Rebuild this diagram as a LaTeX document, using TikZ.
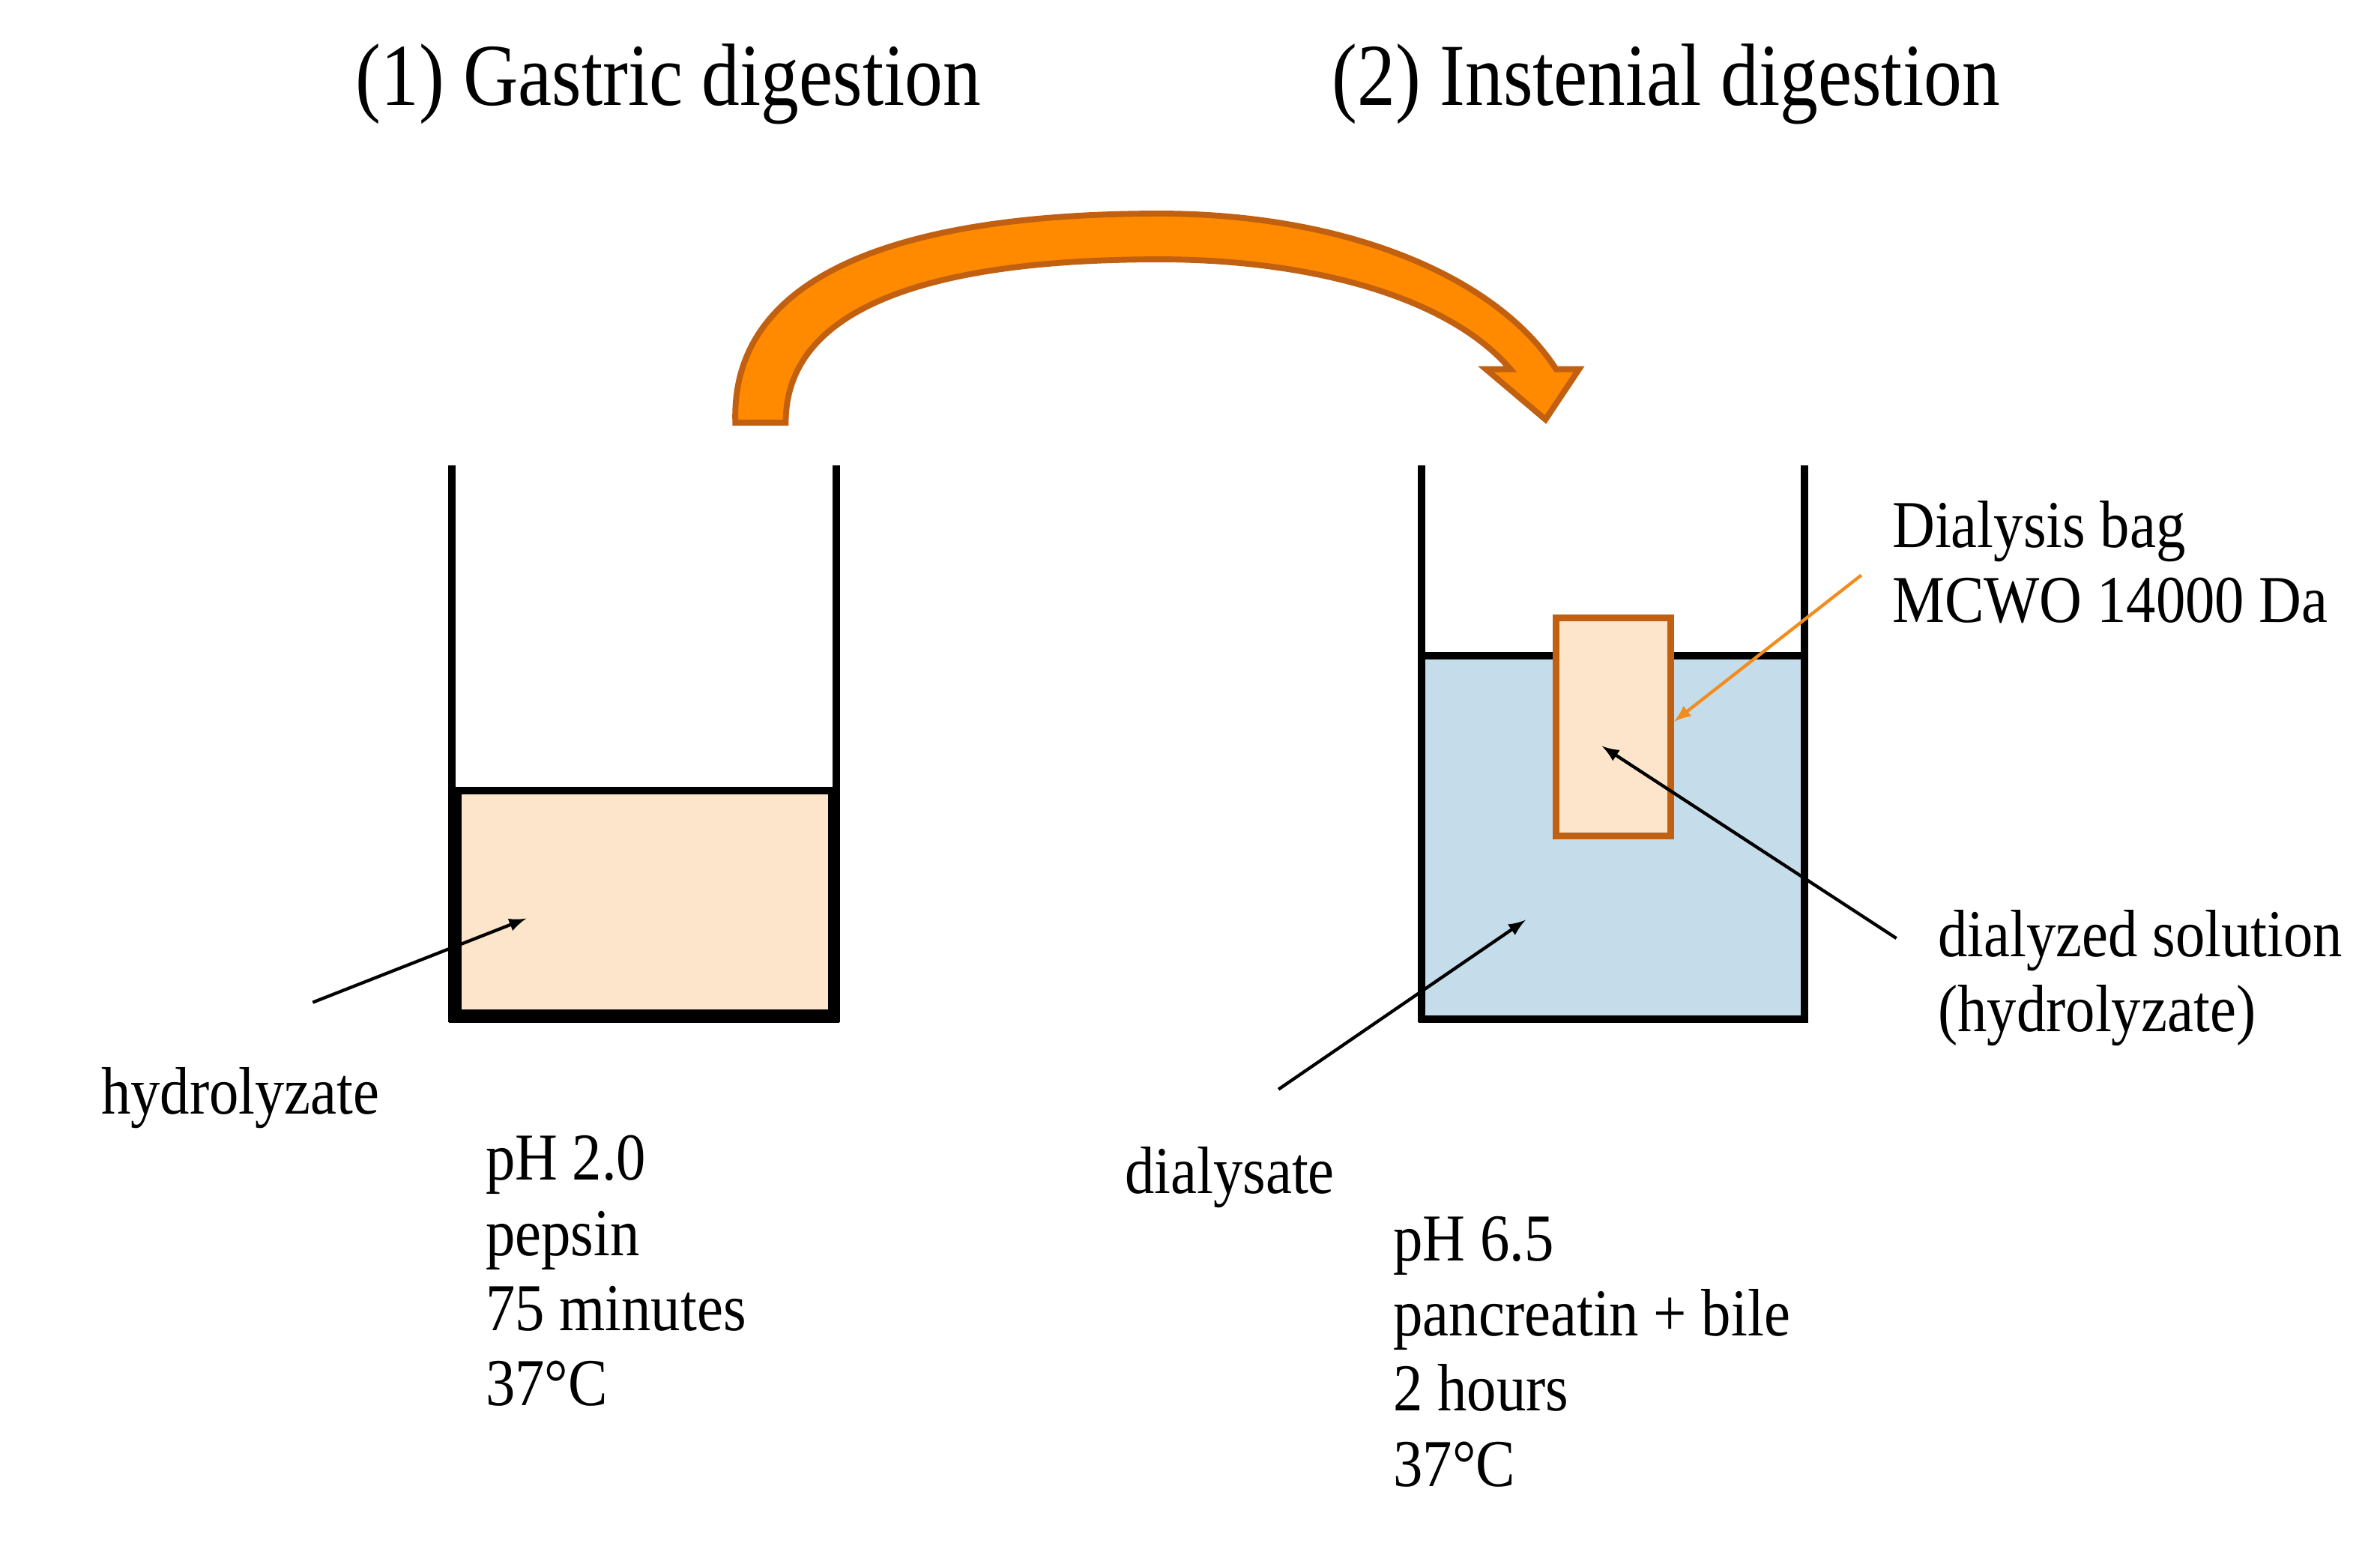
\documentclass[tikz,border=0pt]{standalone}
\usepackage{fontspec}
\setmainfont{Liberation Serif}
\begin{document}
\begin{tikzpicture}[x=0.02cm,y=-0.02cm,
 lbl/.style={anchor=base west,inner sep=0pt,font=\fontsize{25}{30}\selectfont},
 ttl/.style={inner sep=0pt,font=\fontsize{33}{40}\selectfont},
 wall/.style={line width=2.8pt},
 blk/.style={-latex,line width=1.2pt}]
\definecolor{peach}{HTML}{FDE5CC}
\definecolor{water}{HTML}{C5DCEA}
\definecolor{org}{HTML}{C06010}
\definecolor{orgf}{HTML}{FF8A00}
\definecolor{org2}{HTML}{F28C1E}
\newcommand{\nx}[1]{\scalebox{0.88}[1]{#1}}
\useasboundingbox (0,0) rectangle (1560,1013);
% titles
\node[ttl] (t1) at (438,55) {\scalebox{0.86}[1]{(1) Gastric digestion}};
\node[ttl] (t2) at (1092,55) {\scalebox{0.86}[1]{(2) Instenial digestion}};
% curved arrow
\filldraw[fill=orgf,draw=org,line width=2.2pt,line join=miter] (482,277) .. controls (478,160) and (640,140) .. (760,140)
 .. controls (880,140) and (980,180) .. (1020,242) -- (1035,242) -- (1013,275) -- (974,242) -- (990,242)
 .. controls (950,195) and (860,170) .. (760,170) .. controls (640,170) and (515,190) .. (515,277) -- cycle;
% beaker 1
\fill[peach] (300,518) rectangle (545,664);
\draw[wall] (300,518) rectangle (545,664);
\draw[wall] (296,305) -- (296,670);
\draw[wall] (548,305) -- (548,670);
\draw[wall] (294,668) -- (550,668);
% beaker 2
\fill[water] (932,430) rectangle (1183,666);
\draw[wall] (932,430) -- (1183,430);
\draw[wall] (932,305) -- (932,670);
\draw[wall] (1183,305) -- (1183,670);
\draw[wall] (930,668) -- (1185,668);
\node[draw=org,fill=peach,line width=2.5pt,minimum width=1.5cm,minimum height=2.86cm,inner sep=0pt] (bag) at (1057.5,476.5) {};
% labels
\node[lbl] (hyd) at (66,730) {\nx{hydrolyzate}};
\node[lbl,align=left,anchor=north west] (c1) at (318,744) {\nx{pH 2.0}\\[-2pt]\nx{pepsin}\\[-2pt]\nx{75 minutes}\\[-2pt]\nx{37°C}};
\node[lbl] (dia) at (737,782) {\nx{dialysate}};
\node[lbl,align=left,anchor=north west] (c2) at (913,797) {\nx{pH 6.5}\\[-2pt]\nx{pancreatin + bile}\\[-2pt]\nx{2 hours}\\[-2pt]\nx{37°C}};
\node[lbl,align=left,anchor=north west] (db) at (1240,328) {\nx{Dialysis bag}\\[-2pt]\nx{MCWO 14000 Da}};
\node[lbl,align=left,anchor=north west] (ds) at (1270,596) {\nx{dialyzed solution}\\[-2pt]\nx{(hydrolyzate)}};
% arrows
\coordinate (a1s) at (205,657); \coordinate (a1e) at (345,602);
\draw[blk] (a1s) -- (a1e);
\coordinate (a2s) at (838,714); \coordinate (a2e) at (1000,603);
\draw[blk] (a2s) -- (a2e);
\coordinate (a3s) at (1243,615); \coordinate (a3e) at (1050,489);
\draw[blk] (a3s) -- (a3e);
\coordinate (a4s) at (1220,377);
\draw[-latex,org2,line width=1.2pt] (a4s) -- (bag.east |- 0,473);
\end{tikzpicture}
\end{document}
